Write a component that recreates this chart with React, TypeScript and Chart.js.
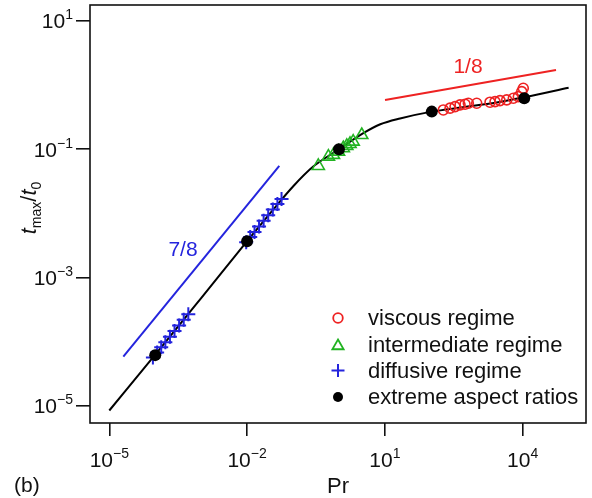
import React, { useEffect, useRef } from "react";
import { Chart, registerables } from "chart.js";
Chart.register(...registerables);

// ---- data ----
const curvePr = [1e-5, 1e-4, 1e-3, 1e-2, 3.16e-2, 0.1, 0.275, 1, 3.39, 7.94, 21.4, 105, 501, 2690, 10700, 1e5];
const curveT = [8.5e-6, 6.3e-5, 4.8e-4, 3.7e-3, 1.0e-2, 2.63e-2, 5.37e-2, 0.1, 0.178, 0.245, 0.302, 0.386, 0.452, 0.537, 0.646, 0.912];

const viscousPr = [187, 262, 337, 433, 556, 656, 998, 1945, 2500, 3210, 4490, 6250, 8040, 9530, 10300];
const viscousT = [0.41, 0.437, 0.462, 0.491, 0.504, 0.521, 0.521, 0.541, 0.552, 0.573, 0.588, 0.624, 0.661, 0.791, 0.893];

const intermediatePr = [0.355, 0.589, 0.759, 0.977, 1.245, 1.48, 1.74, 2.04, 3.13];
const intermediateT = [0.055, 0.0767, 0.0817, 0.0918, 0.104, 0.113, 0.121, 0.1315, 0.167];

const diffusivePr = [8.9e-5, 1.1e-4, 1.35e-4, 1.66e-4, 2.09e-4, 2.63e-4, 3.31e-4, 4.17e-4, 5.25e-4,
  9.55e-3, 1.17e-2, 1.45e-2, 1.82e-2, 2.29e-2, 2.88e-2, 3.63e-2, 4.57e-2, 5.62e-2];
const diffusiveT = [5.7e-5, 6.84e-5, 8.2e-5, 9.8e-5, 1.2e-4, 1.47e-4, 1.8e-4, 2.2e-4, 2.69e-4,
  3.57e-3, 4.28e-3, 5.13e-3, 6.27e-3, 7.67e-3, 9.39e-3, 1.15e-2, 1.4e-2, 1.68e-2];

const extremePr = [1e-4, 1e-2, 1, 105, 10800];
const extremeT = [6.2e-5, 3.7e-3, 0.1, 0.386, 0.624];

const slopeLowPr = [2.02e-5, 0.0502];
const slopeLowT = [5.87e-5, 0.055];
const slopeHighPr = [10.07, 53200];
const slopeHighT = [0.587, 1.72];

const seriesLabels = ["viscous regime", "intermediate regime", "diffusive regime", "extreme aspect ratios"];
const slopeLabels = ["7/8", "1/8"];

const xTickValues = [1e-5, 1e-2, 1e1, 1e4];
const xTickExponents = ["\u22125", "\u22122", "1", "4"];
const yTickValues = [1e-5, 1e-3, 1e-1, 1e1];
const yTickExponents = ["\u22125", "\u22123", "\u22121", "1"];

const RED = "#ee2222";
const GREEN = "#22b322";
const BLUE = "#2424dd";
const FONT = '"Liberation Sans", Arial, Helvetica, sans-serif';

const pts = (xs: number[], ys: number[]) => xs.map((x, i) => ({ x, y: ys[i] }));

const annotPlugin = {
  id: "annot",
  afterDraw(chart: any) {
    const ctx = chart.ctx as CanvasRenderingContext2D;
    const { left, right, top, bottom } = chart.chartArea;
    const xs = chart.scales.x;
    const ys = chart.scales.y;
    ctx.save();
    // frame
    ctx.strokeStyle = "#111";
    ctx.lineWidth = 1.6;
    ctx.strokeRect(left, top, right - left, bottom - top);

    ctx.fillStyle = "#111";
    ctx.textAlign = "left";
    ctx.textBaseline = "alphabetic";
    const base = `21px ${FONT}`;
    const sup = `14px ${FONT}`;
    const legendFont = `22px ${FONT}`;

    // x tick labels
    xTickValues.forEach((v, i) => {
      const px = xs.getPixelForValue(v);
      ctx.font = base;
      const wb = ctx.measureText("10").width;
      ctx.font = sup;
      const we = ctx.measureText(xTickExponents[i]).width;
      const x0 = px - (wb + we) / 2;
      ctx.font = base;
      ctx.fillText("10", x0, bottom + 44);
      ctx.font = sup;
      ctx.fillText(xTickExponents[i], x0 + wb, bottom + 35);
    });
    // y tick labels
    yTickValues.forEach((v, i) => {
      const py = ys.getPixelForValue(v);
      ctx.font = base;
      const wb = ctx.measureText("10").width;
      ctx.font = sup;
      const we = ctx.measureText(yTickExponents[i]).width;
      const x0 = left - 17 - (wb + we);
      ctx.font = base;
      ctx.fillText("10", x0, py + 7.5);
      ctx.font = sup;
      ctx.fillText(yTickExponents[i], x0 + wb, py - 1.5);
    });

    // x title
    ctx.font = legendFont;
    ctx.textAlign = "center";
    ctx.fillText("Pr", (left + right) / 2, 493);

    // y title t_max / t_0
    ctx.save();
    ctx.translate(36, (top + bottom) / 2 - 6);
    ctx.rotate(-Math.PI / 2);
    const parts = [
      { t: "t", f: `italic 22px ${FONT}`, dy: 0 },
      { t: "max", f: `14px ${FONT}`, dy: 5 },
      { t: "/", f: `22px ${FONT}`, dy: 0 },
      { t: "t", f: `italic 22px ${FONT}`, dy: 0 },
      { t: "0", f: `14px ${FONT}`, dy: 5 },
    ];
    let tw = 0;
    parts.forEach((p) => {
      ctx.font = p.f;
      tw += ctx.measureText(p.t).width;
    });
    let cx = -tw / 2;
    ctx.textAlign = "left";
    parts.forEach((p) => {
      ctx.font = p.f;
      ctx.fillText(p.t, cx, p.dy);
      cx += ctx.measureText(p.t).width;
    });
    ctx.restore();

    // panel label
    ctx.font = base;
    ctx.textAlign = "left";
    ctx.fillText("(b)", 14, 492);

    // slope labels
    ctx.textAlign = "center";
    ctx.fillStyle = BLUE;
    ctx.fillText(slopeLabels[0], 183, 256);
    ctx.fillStyle = RED;
    ctx.fillText(slopeLabels[1], 468, 73);

    // legend
    const rowsY = [318, 344.5, 370.5, 397];
    const mx = 338;
    const tx = 368;
    ctx.textAlign = "left";
    ctx.textBaseline = "middle";
    seriesLabels.forEach((lab, i) => {
      const y = rowsY[i];
      ctx.beginPath();
      if (i === 0) {
        ctx.strokeStyle = RED;
        ctx.lineWidth = 1.8;
        ctx.arc(mx, y, 4.8, 0, Math.PI * 2);
        ctx.stroke();
      } else if (i === 1) {
        ctx.strokeStyle = GREEN;
        ctx.lineWidth = 1.8;
        const r = 6.5;
        for (let k = 0; k < 3; k++) {
          const a = (k * 2 * Math.PI) / 3;
          const px = mx + Math.sin(a) * r;
          const py = y + 1.5 - Math.cos(a) * r;
          if (k === 0) ctx.moveTo(px, py);
          else ctx.lineTo(px, py);
        }
        ctx.closePath();
        ctx.stroke();
      } else if (i === 2) {
        ctx.strokeStyle = BLUE;
        ctx.lineWidth = 2;
        ctx.moveTo(mx - 6.5, y);
        ctx.lineTo(mx + 6.5, y);
        ctx.moveTo(mx, y - 6.5);
        ctx.lineTo(mx, y + 6.5);
        ctx.stroke();
      } else {
        ctx.fillStyle = "#000";
        ctx.arc(mx, y, 5, 0, Math.PI * 2);
        ctx.fill();
      }
      ctx.fillStyle = "#111";
      ctx.font = legendFont;
      ctx.fillText(lab, tx, y + 1);
    });
    ctx.restore();
  },
};

export default function App() {
  const ref = useRef<HTMLCanvasElement | null>(null);
  useEffect(() => {
    if (!ref.current) return;
    const chart = new Chart(ref.current, {
      type: "scatter",
      data: {
        datasets: [
          {
            label: "curve",
            data: pts(curvePr, curveT),
            showLine: true,
            borderColor: "#000",
            borderWidth: 2,
            pointRadius: 0,
            cubicInterpolationMode: "monotone",
            order: 10,
          } as any,
          {
            label: slopeLabels[0],
            data: pts(slopeLowPr, slopeLowT),
            showLine: true,
            borderColor: BLUE,
            borderWidth: 2,
            pointRadius: 0,
            order: 9,
          },
          {
            label: slopeLabels[1],
            data: pts(slopeHighPr, slopeHighT),
            showLine: true,
            borderColor: RED,
            borderWidth: 2,
            pointRadius: 0,
            order: 9,
          },
          {
            label: seriesLabels[0],
            data: pts(viscousPr, viscousT),
            pointStyle: "circle",
            pointRadius: 5,
            pointBorderWidth: 1.6,
            pointBorderColor: RED,
            pointBackgroundColor: "rgba(0,0,0,0)",
            order: 5,
          },
          {
            label: seriesLabels[1],
            data: pts(intermediatePr, intermediateT),
            pointStyle: "triangle",
            pointRadius: 7,
            pointBorderWidth: 1.6,
            pointBorderColor: GREEN,
            pointBackgroundColor: "rgba(0,0,0,0)",
            order: 4,
          },
          {
            label: seriesLabels[2],
            data: pts(diffusivePr, diffusiveT),
            pointStyle: "cross",
            pointRadius: 7,
            pointBorderWidth: 2,
            pointBorderColor: BLUE,
            order: 3,
          },
          {
            label: seriesLabels[3],
            data: pts(extremePr, extremeT),
            pointStyle: "circle",
            pointRadius: 6,
            pointBorderWidth: 0,
            pointBackgroundColor: "#000",
            pointBorderColor: "#000",
            order: 1,
          },
        ],
      },
      options: {
        responsive: false,
        animation: false,
        devicePixelRatio: 1,
        layout: { autoPadding: false, padding: { left: 0, top: 5, right: 6, bottom: 0 } },
        plugins: { legend: { display: false }, tooltip: { enabled: false } },
        scales: {
          x: {
            type: "logarithmic",
            min: 3.8e-6,
            max: 2.39e5,
            afterBuildTicks: (s: any) => {
              s.ticks = xTickValues.map((value) => ({ value }));
            },
            afterFit: (s: any) => {
              s.height = 75;
            },
            ticks: { display: false },
            border: { display: false },
            grid: { display: true, drawOnChartArea: false, drawTicks: true, tickLength: 13, color: "#111", lineWidth: 1.6 },
          },
          y: {
            type: "logarithmic",
            min: 5.43e-6,
            max: 17.7,
            afterBuildTicks: (s: any) => {
              s.ticks = yTickValues.map((value) => ({ value }));
            },
            afterFit: (s: any) => {
              s.width = 90;
            },
            ticks: { display: false },
            border: { display: false },
            grid: { display: true, drawOnChartArea: false, drawTicks: true, tickLength: 14, color: "#111", lineWidth: 1.6 },
          },
        },
      },
      plugins: [annotPlugin],
    });
    return () => chart.destroy();
  }, []);
  return (
    <div style={{ position: "fixed", left: 0, top: 0, width: 592, height: 498, background: "#fff" }}>
      <canvas ref={ref} width={592} height={498} style={{ display: "block", width: 592, height: 498 }} />
    </div>
  );
}
